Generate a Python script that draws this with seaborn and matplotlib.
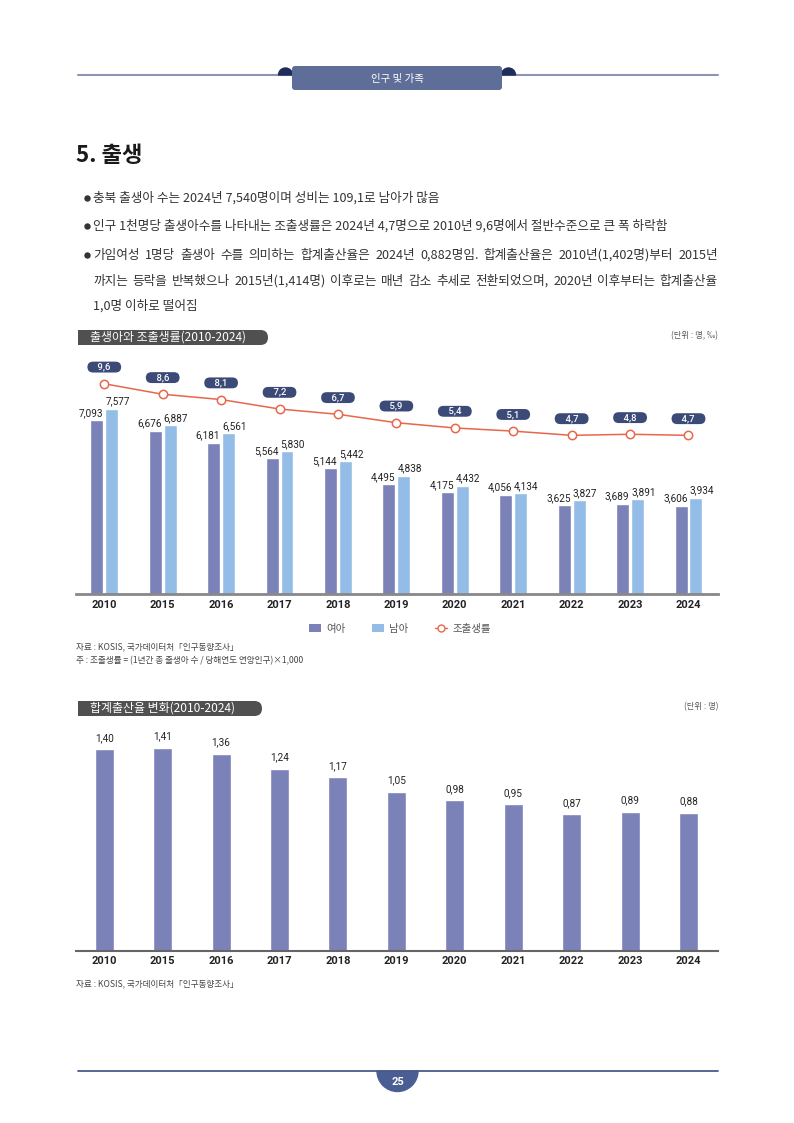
import numpy as np
import pandas as pd
import matplotlib
matplotlib.use("Agg")
import matplotlib.pyplot as plt
import seaborn as sns
from matplotlib.patches import FancyBboxPatch, Wedge, Patch, Rectangle
from matplotlib.lines import Line2D

# 데이터
years = ["2010", "2015", "2016", "2017", "2018", "2019", "2020", "2021", "2022", "2023", "2024"]
female = [7093, 6676, 6181, 5564, 5144, 4495, 4175, 4056, 3625, 3689, 3606]
male = [7577, 6887, 6561, 5830, 5442, 4838, 4432, 4134, 3827, 3891, 3934]
crude_rate = [9.6, 8.6, 8.1, 7.2, 6.7, 5.9, 5.4, 5.1, 4.7, 4.8, 4.7]
tfr = [1.40, 1.41, 1.36, 1.24, 1.17, 1.05, 0.98, 0.95, 0.87, 0.89, 0.88]

bullets = [
    "충북 출생아 수는 2024년 7,540명이며 성비는 109,1로 남아가 많음",
    "인구 1천명당 출생아수를 나타내는 조출생률은 2024년 4,7명으로 2010년 9,6명에서 절반수준으로 큰 폭 하락함",
    "가임여성 1명당 출생아 수를 의미하는 합계출산율은 2024년 0,882명임. 합계출산율은 2010년(1,402명)부터 2015년",
    "까지는 등락을 반복했으나 2015년(1,414명) 이후로는 매년 감소 추세로 전환되었으며, 2020년 이후부터는 합계출산율",
    "1,0명 이하로 떨어짐",
]

# 색상
c_female = "#7a82b7"
c_male = "#93bde6"
c_line = "#e8674b"
c_rate_box = "#3c4a78"
c_pill = "#505050"
num_font = ["Roboto", "DejaVu Sans"]

W, H = 794, 1123
sns.set_theme(style="white")
plt.rcParams["font.family"] = ["Noto Sans CJK KR", "DejaVu Sans"]

fig = plt.figure(figsize=(W / 100, H / 100), dpi=100)


def box(l, t, r, b):
    return [l / W, 1 - b / H, (r - l) / W, (b - t) / H]


# 페이지 장식용 축 (픽셀 좌표)
page = fig.add_axes([0, 0, 1, 1])
page.set_xlim(0, W)
page.set_ylim(H, 0)
page.axis("off")

# 상단 헤더
page.plot([78, 718], [75, 75], color="#8d95b5", lw=1.5, zorder=1)
page.add_patch(Wedge((285.5, 75), 7, 180, 360, color="#1e2d5a", zorder=2))
page.add_patch(Wedge((508.5, 75), 7, 180, 360, color="#1e2d5a", zorder=2))
page.add_patch(FancyBboxPatch((292, 66), 210, 24, boxstyle="round,pad=0,rounding_size=3",
                              fc="#5f6e98", ec="none", zorder=3))
page.text(397, 79, "인구 및 가족", color="white", fontsize=7.5, fontweight="medium",
          ha="center", va="center", zorder=4)

# 제목
page.text(76, 156, "5. 출생", fontsize=16, fontweight="bold", va="center", color="#1a1a1a")

# 본문
renderer = fig.canvas.get_renderer()


def put_line(x0, y, text, size, right=None):
    kw = dict(fontsize=size, va="center", color="#333333")
    if right is None:
        page.text(x0, y, text, **kw)
        return
    words = text.split(" ")
    objs = [page.text(x0, y, w, **kw) for w in words]
    widths = [o.get_window_extent(renderer).width for o in objs]
    gap = max((right - x0 - sum(widths)) / (len(words) - 1), 1.5)
    x = x0
    for o, w in zip(objs, widths):
        o.set_x(x)
        x += w + gap


bullet_y = [198, 226, 255, 281, 306]
for i, (txt, y) in enumerate(zip(bullets, bullet_y)):
    if i in (0, 1, 2):
        page.plot([86.5], [y], marker="o", ms=3.6, color="#333333")
    put_line(93, y, txt, 9.1, right=718 if i in (2, 3) else None)


# 섹션 제목 pill
def pill(l, r, t, b, text):
    page.add_patch(Rectangle((l, t), r - l - 10, b - t, fc=c_pill, ec="none"))
    page.add_patch(FancyBboxPatch((r - 30, t), 30, b - t,
                                  boxstyle=f"round,pad=0,rounding_size={(b - t) / 2}",
                                  fc=c_pill, ec="none"))
    page.text(l + 12, (t + b) / 2, text, color="white", fontsize=8.6, fontweight="medium",
              va="center")


pill(78, 268, 330, 345, "출생아와 조출생률(2010-2024)")
page.text(718, 336, "(단위 : 명, ‰)", ha="right", va="center", fontsize=6, color="#555555")

# 차트 1: 출생아 수와 조출생률
ax1 = fig.add_axes(box(76, 345, 718, 594))
df1 = pd.DataFrame({
    "year": years * 2,
    "sex": ["여아"] * len(years) + ["남아"] * len(years),
    "count": female + male,
})
sns.barplot(data=df1, x="year", y="count", hue="sex", palette=[c_female, c_male],
            width=0.51, gap=0.13, saturation=1, errorbar=None, legend=False, ax=ax1)
ax1.set_xlim(-0.484, 10.505)
ax1.set_ylim(0, 10176)
ax1.set_facecolor("none")
for s in ["top", "left", "right"]:
    ax1.spines[s].set_visible(False)
ax1.spines["bottom"].set_color("#888888")
ax1.spines["bottom"].set_linewidth(2)
ax1.set_yticks([])
ax1.set_xlabel("")
ax1.set_ylabel("")
ax1.tick_params(axis="x", length=0, pad=4)
for lab in ax1.get_xticklabels():
    lab.set_fontfamily(num_font)
    lab.set_fontweight("bold")
    lab.set_fontsize(8)
    lab.set_color("#222222")

for bar, v in zip(ax1.containers[0], female):
    ax1.annotate(f"{v:,}", (bar.get_x() + bar.get_width(), bar.get_height()),
                 xytext=(0, 1.5), textcoords="offset points", ha="right", va="bottom",
                 fontsize=7.2, family=num_font, color="#222222")
for bar, v in zip(ax1.containers[1], male):
    ax1.annotate(f"{v:,}", (bar.get_x(), bar.get_height()),
                 xytext=(0, 1.5), textcoords="offset points", ha="left", va="bottom",
                 fontsize=7.2, family=num_font, color="#222222")

ax2 = ax1.twinx()
xs = np.arange(len(years))
sns.lineplot(x=xs, y=crude_rate, ax=ax2, color=c_line, lw=1.1, marker="o", markersize=6,
             markerfacecolor="white", markeredgecolor=c_line, markeredgewidth=1.1)
ax2.set_ylim(-10.37, 13.28)
ax2.set_xlim(-0.484, 10.505)
ax2.axis("off")
for x, r in zip(xs, crude_rate):
    ax2.annotate("    " + f"{r:.1f}".replace(".", ",") + "    ", (x, r), xytext=(0, 12),
                 textcoords="offset points", ha="center", va="center", color="white",
                 fontsize=6.8, fontweight="medium", family=num_font,
                 bbox=dict(boxstyle="round,pad=0.1,rounding_size=0.6", fc=c_rate_box, ec="none"))

# 범례
handles = [
    Patch(fc=c_female, ec="none", label="여아"),
    Patch(fc=c_male, ec="none", label="남아"),
    Line2D([], [], color=c_line, lw=1, marker="o", ms=5, mfc="white", mec=c_line, label="조출생률"),
]
leg = fig.legend(handles=handles, loc="center", bbox_to_anchor=(400 / W, 1 - 629 / H), ncol=3,
                 frameon=False, fontsize=7.5, handlelength=1.1, handleheight=0.8,
                 handletextpad=0.5, columnspacing=2.6)
for t in leg.get_texts():
    t.set_color("#555555")

page.text(76, 647, "자료 : KOSIS, 국가데이터처「인구동향조사」", fontsize=6.2, va="center", color="#444444")
page.text(76, 661, "주 : 조출생률 = (1년간 총 출생아 수 / 당해연도 연앙인구)×1,000", fontsize=6.2,
          va="center", color="#444444")

# 차트 2: 합계출산율
pill(78, 262, 701, 716, "합계출산율 변화(2010-2024)")
page.text(718, 707, "(단위 : 명)", ha="right", va="center", fontsize=6, color="#555555")

base = -0.246
ax3 = fig.add_axes(box(76, 725, 718, 950.7))
sns.barplot(x=years, y=[v - base for v in tfr], bottom=base, color=c_female, width=0.325,
            saturation=1, errorbar=None, ax=ax3)
ax3.set_xlim(-0.484, 10.505)
ax3.set_ylim(base, 1.596)
ax3.set_facecolor("none")
for s in ["top", "left", "right"]:
    ax3.spines[s].set_visible(False)
ax3.spines["bottom"].set_color("#666666")
ax3.spines["bottom"].set_linewidth(1.5)
ax3.set_yticks([])
ax3.tick_params(axis="x", length=0, pad=4)
for lab in ax3.get_xticklabels():
    lab.set_fontfamily(num_font)
    lab.set_fontweight("bold")
    lab.set_fontsize(8)
    lab.set_color("#222222")
for bar, v in zip(ax3.containers[0], tfr):
    ax3.annotate(f"{v:.2f}".replace(".", ","), (bar.get_x() + bar.get_width() / 2, v),
                 xytext=(0, 4.5), textcoords="offset points", ha="center", va="bottom",
                 fontsize=7.2, family=num_font, color="#222222")

page.text(76, 984, "자료 : KOSIS, 국가데이터처「인구동향조사」", fontsize=6.2, va="center", color="#444444")

# 하단 쪽번호
page.plot([78, 718], [1071, 1071], color="#4a5a8a", lw=1.3)
page.add_patch(Wedge((397.5, 1071), 20.5, 0, 180, color="#4b5e93"))
page.text(397.5, 1082, "25", color="white", fontsize=8, fontweight="bold", ha="center",
          va="center", family=num_font)

fig.savefig("out.png", dpi=100)
